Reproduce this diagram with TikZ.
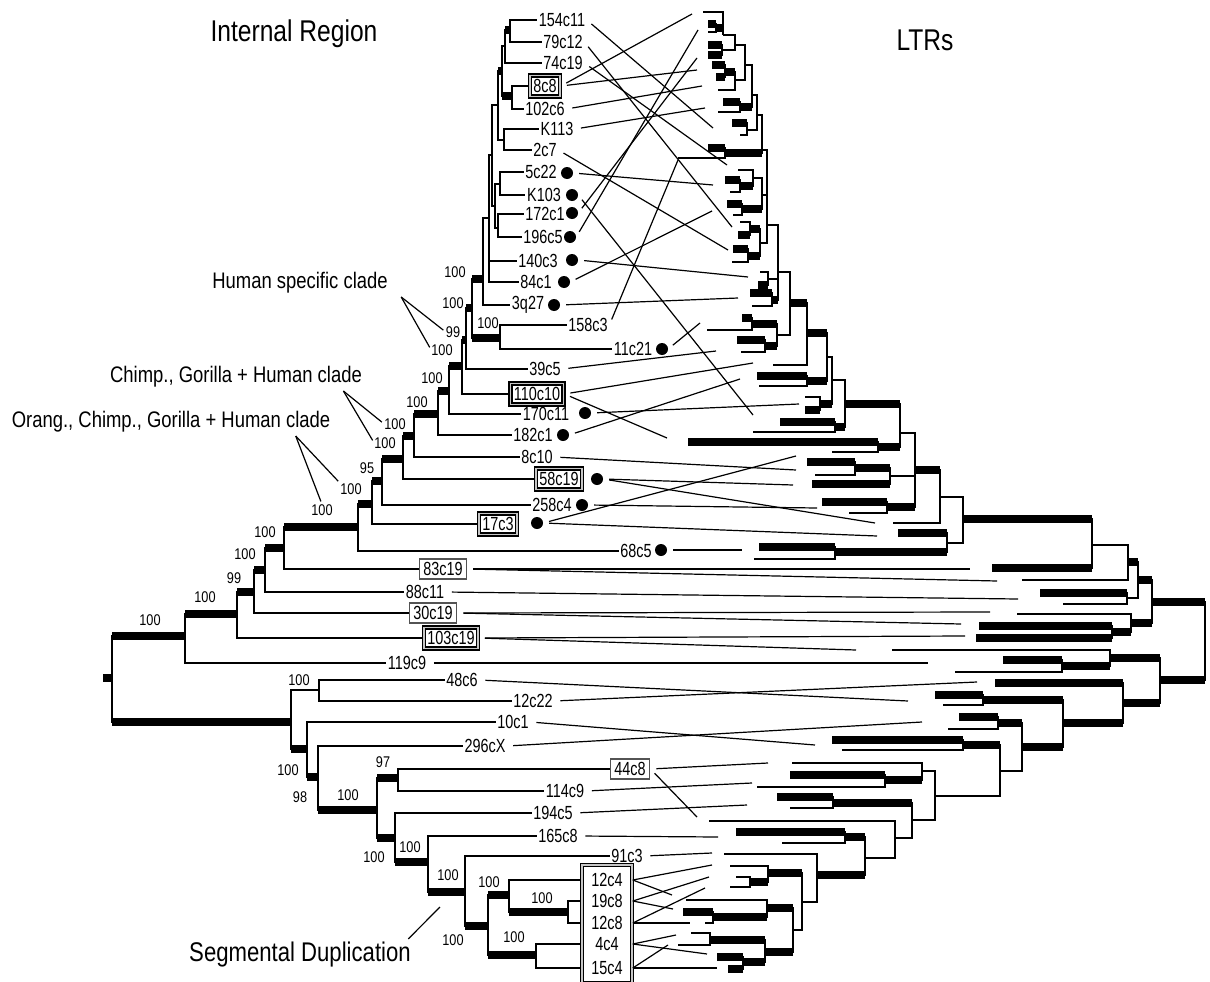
\documentclass[tikz,border=0pt]{standalone}
\usepackage{fontspec}
\setmainfont{Liberation Sans}[FakeStretch=0.82]
\newfontfamily\cnd{Liberation Sans}[FakeStretch=0.76]

\tikzset{
  br/.style={line width=2.2pt},
  thk/.style={line width=8.5pt},
  tl/.style={line width=1.2pt, shorten <=6pt},
  tlb/.style={line width=1.2pt},
  al/.style={line width=1.2pt, shorten >=3pt},
  lbl/.style={inner sep=1.5pt, font=\cnd\fontsize{19}{19}\selectfont},
  dbox/.style={lbl, draw, line width=1.6pt, double=gray!45, double distance=1.4pt, inner xsep=3.5pt, inner ysep=3.5pt},
  gbox/.style={lbl, draw=gray!65!black, line width=1.6pt, inner xsep=4pt, inner ysep=3.5pt},
  dot/.style={circle, fill, inner sep=0pt, minimum size=12pt},
  bs/.style={inner sep=0pt, font=\fontsize{15.5}{15.5}\selectfont},
  ann/.style={font=\fontsize{22.5}{22.5}\selectfont},
  sdl/.style={font=\fontsize{27}{27}\selectfont},
  ttl/.style={font=\fontsize{30}{30}\selectfont},
}

\begin{document}
\begin{tikzpicture}[x=1pt,y=-1pt]
\useasboundingbox (0,0) rectangle (1210,982);

\node[ttl] (irg) at (294,34) {Internal Region};
\node[ttl] (ltr) at (925,40) {LTRs};

% internal region labels
\foreach \n/\x/\y/\tx in {s154c11/562/20/154c11, s79c12/563/42/79c12, s74c19/563/63/74c19, s102c6/545/109/102c6,
  sK113/557/129/K113, s2c7/545/150/2c7, s5c22/541/172/5c22, sK103/544/195/K103, s172c1/545/214/172c1,
  s196c5/543/237/196c5, s140c3/538/261/140c3, s84c1/536/282/84c1, s3q27/528/305/3q27, s158c3/588/325/158c3,
  s11c21/633/349/11c21, s39c5/545/369/39c5, s170c11/546/414/170c11, s182c1/533/435/182c1, s8c10/537/457/8c10,
  s258c4/552/505/258c4, s68c5/636/551/68c5, s88c11/425/592/88c11, s119c9/407/663/119c9, s48c6/462/680/48c6,
  s12c22/533/701/12c22, s10c1/513/722/10c1, s296cX/485/746/296cX, s114c9/565/791/114c9, s194c5/553/813/194c5,
  s165c8/558/836/165c8, s91c3/627/856/91c3, s12c4/607/880/12c4, s19c8/607/901/19c8, s12c8/607/923/12c8,
  s4c4/607/944/4c4, s15c4/607/968/15c4}
  \node[lbl] (\n) at (\x,\y) {\tx};
\foreach \n/\x/\y/\tx in {s8c8/545/86/8c8, s110c10/537/394/110c10, s58c19/559/479/58c19, s17c3/498/524/17c3, s103c19/451/638/103c19}
  \node[dbox] (\n) at (\x,\y) {\tx};
\foreach \n/\x/\y/\tx in {s83c19/443/569/83c19, s30c19/433/613/30c19, s44c8/630/769/44c8}
  \node[gbox] (\n) at (\x,\y) {\tx};
\node[dbox, minimum width=50pt, minimum height=118pt] (bx) at (607,924) {};
\foreach \n/\x/\y in {d5c22/567/173, dK103/572/195, d172c1/572/213, d196c5/570/237, d140c3/572/260, d84c1/564/282,
  d3q27/554/305, d11c21/662/349, d170c11/585/413, d182c1/563/435, d58c19/597/479, d258c4/582/505, d17c3/537/523, d68c5/661/550}
  \node[dot] (\n) at (\x,\y) {};

% internal region tree
\foreach \n/\x/\y in {stub/103/678, root/112/678, u0/185/636, u1/237/614, u2/254/592, u3/265/570, u4/284/548, u5/358/527,
  u6/372/504, u7/382/481, u8/403/459, u9/414/436, u10/438/414, u11/449/391, u12/462/366, u13/466/340, u14/472/308,
  nl/483/279, nm/500/338, nk/489/218, nj/492/155, ni/495/206, ng/500/184, nh/498/228, nf/498/105, nd/502/71,
  ne/504/140, nb/505/46, nc/512/96, na/510/30,
  l0/291/722, l1/319/690, l2/307/749, l3/318/777, l4/377/810, l5/398/778, l6/395/838, l7/428/862, l8/465/892,
  l9/488/926, l10/509/895, l11/536/955, l12/568/912}
  \coordinate (\n) at (\x,\y);
\foreach \pa/\ch in {root/u0, root/l0, u0/u1, u1/u2, u2/u3, u3/u4, u4/u5, u5/u6, u6/u7, u7/u8, u8/u9, u9/u10,
  u10/u11, u11/u12, u12/u13, u13/u14, u14/nl, u14/nm, nl/nk, nk/nj, nj/nf, nj/ni, ni/ng, ni/nh, nf/nd, nf/ne,
  nd/nb, nd/nc, nb/na, l0/l1, l0/l2, l2/l3, l3/l4, l4/l5, l4/l6, l6/l7, l7/l8, l8/l9, l9/l10, l9/l11, l10/l12}
  \draw[br] (\pa) |- (\ch);
\foreach \pa/\ch in {root/u0, root/l0, u0/u1, u1/u2, u2/u3, u3/u4, u4/u5, u5/u6, u6/u7, u7/u8, u8/u9, u9/u10,
  u10/u11, u11/u12, u12/u13, u13/u14, u14/nl, u14/nm, nf/nd, nd/nc, nb/na, l0/l2, l2/l3, l3/l4, l4/l5, l4/l6, l6/l7,
  l7/l8, l8/l9, l9/l10, l9/l11, l10/l12}
  \draw[thk] (\pa |- \ch) -- (\ch);
\draw[thk] (stub) -- (root);
\foreach \pa/\ch in {na/s154c11, na/s79c12, nb/s74c19, nc/s8c8, nc/s102c6, ne/sK113, ne/s2c7, ng/s5c22, ng/sK103,
  nh/s172c1, nh/s196c5, nk/s140c3, nk/s84c1, nl/s3q27, nm/s158c3, nm/s11c21, u13/s39c5, u12/s110c10,
  u11/s170c11, u10/s182c1, u9/s8c10, u8/s58c19, u7/s258c4, u6/s17c3, u5/s68c5, u4/s83c19, u3/s88c11,
  u2/s30c19, u1/s103c19, u0/s119c9, l1/s48c6, l1/s12c22, l2/s10c1, l3/s296cX, l5/s44c8, l5/s114c9,
  l6/s194c5, l7/s165c8, l8/s91c3}
  \draw[br] (\pa) |- (\ch.west);
\foreach \pa/\ch in {l10/s12c4, l12/s19c8, l12/s12c8, l11/s4c4, l11/s15c4}
  \draw[br] (\pa) |- (bx.west |- \ch);

% bootstrap values
\foreach \n/\x/\y/\tx in {bs1/150/620/100, bs2/205/597/100, bs3/234/578/99, bs4/245/554/100, bs5/265/532/100,
  bs6/322/510/100, bs7/351/489/100, bs8/367/468/95, bs9/385/443/100, bs10/395/424/100, bs11/417/402/100,
  bs12/432/378/100, bs13/442/350/100, bs14/453/332/99, bs15/453/303/100, bs16/455/272/100, bs17/488/323/100,
  bs18/299/680/100, bs19/288/770/100, bs20/300/797/98, bs21/348/795/100, bs22/383/762/97, bs23/374/857/100,
  bs24/410/847/100, bs25/448/875/100, bs26/453/940/100, bs27/489/882/100, bs28/514/937/100, bs29/542/898/100}
  \node[bs] (\n) at (\x,\y) {\tx};

% clade notes
\node[ann] (hsc) at (300,283) {Human specific clade};
\node[ann] (cgh) at (236,377) {Chimp., Gorilla + Human clade};
\node[ann] (ocg) at (171,422) {Orang., Chimp., Gorilla + Human clade};
\node[sdl] (sdup) at (300,955) {Segmental Duplication};
\draw[al] ([xshift=10pt]hsc.south east) -- (bs14.west);
\draw[al] ([xshift=10pt]hsc.south east) -- (bs13.west);
\draw[al] ([xshift=-22pt]cgh.south east) -- (bs10.west);
\draw[al] ([xshift=-22pt]cgh.south east) -- (bs9.west);
\draw[al] ([xshift=-38pt]ocg.south east) -- (bs7.north west);
\draw[al] ([xshift=-38pt]ocg.south east) -- (bs6.north);
\coordinate (sdtip) at (442,905);
\draw[al] ([xshift=-6pt]sdup.north east) -- (sdtip);

% LTR tree
\foreach \n/\x/\y in {r1/703/12, r2/708/24, r3/708/32, r4/708/45, r5/708/55, r6/712/65, r7/716/77, r8/718/90,
  r9/723/102, r10/718/112, r11/732/123, r12/740/135, r13/708/148, r14/678/158, r15/738/170, r16/725/180,
  r17/730/192, r18/727/204, r19/733/215, r20/740/222, r21/738/235, r22/733/249, r23/732/262, r24/760/272,
  r25/758/285, r26/750/293, r27/752/306, r28/742/318, r29/707/330, r30/737/340, r31/741/352, r32/773/365,
  r33/757/376, r34/759/386, r35/805/397, r36/805/410, r37/780/422, r38/753/432, r39/688/442, r40/832/452,
  r41/807/462, r42/815/475, r43/812/484, r44/822/502, r45/849/513, r46/893/523, r47/759/547, r48/754/559,
  r49/898/533, r50/992/568, r51/1022/580, r52/1040/593, r53/1063/604, r54/1017/614, r55/979/626, r56/976/638,
  r57/892/650, r58/1003/660, r59/955/672, r60/995/683, r61/935/695, r62/943/705, r63/959/717, r64/948/729,
  r65/832/740, r66/842/750, r67/792/763, r68/790/775, r69/757/787, r70/777/797, r71/790/808, r72/709/821,
  r73/736/832, r74/782/843, r75/724/854, r76/730/866, r77/736/877, r78/730/887, r79/686/900, r80/683/912,
  r81/705/923, r82/691/933, r83/678/945, r84/717/957, r85/728/969}
  \coordinate (\n) at (\x,\y);
\foreach \n/\x/\y in {a1/716/28, a2/723/35, a3/722/50, a4/735/45, a5/725/72, a6/735/80, a7/745/65, a8/740/107,
  a9/752/95, a10/747/130, a11/757/115, a12/725/153, B1/762/150, a14/740/186, a16/753/178, a15/742/209,
  a17/762/195, a18/750/229, a19/748/256, a20/760/243, B2/767/225, a23/768/279, a24/772/300, Bx/778/272,
  a25/752/324, a26/765/346, T11/777/335, B3/790/303, B4/807/333, a27/807/381, B5/827/357, a28/820/404,
  B6/832/380, a29/835/427, B7/845/404, a30/878/447, B8/900/433, a33/855/468, a31/890/476, a32/887/507,
  B9/915/470, B10/940/497, a34/835/552, a35/947/543, B11/963/519, B12/1092/545, B13/1128/562, a36/1127/598,
  B14/1138/580, a37/1112/632, a38/1131/623, B15/1152/602, R/1205/641, a39/1062/666, a40/1110/658,
  Q1/1160/680, a41/983/700, Q2/1123/703, Q3/1063/723, a42/998/723, Q4/1022/747, a43/963/745, Q5/1000/771,
  a44/885/780, a45/922/771, Q6/935/796, a46/833/803, a47/912/820, Q8/895/838, a48/845/837, Q9/865/858,
  Q10/817/875, a49/750/882, a50/768/873, Q11/802/902, a51/713/917, a52/767/908, a55/710/940, a53/743/962,
  a54/765/952, Q12/793/930}
  \coordinate (\n) at (\x,\y);
\foreach \pa/\ch in {a1/r2, a1/r3, a2/r1, a2/a1, a3/r4, a3/r5, a4/a2, a4/a3, a5/r6, a5/r7, a6/a5, a6/r8, a7/a4,
  a7/a6, a8/r9, a8/r10, a9/a7, a9/a8, a10/r11, a10/r12, a11/a9, a11/a10, a12/r13, a12/r14, B1/a11, B1/a12,
  a14/r16, a14/r17, a16/r15, a16/a14, a15/r18, a15/r19, a17/a16, a17/a15, a18/r20, a18/r21, a19/r22, a19/r23,
  a20/a18, a20/a19, B2/B1, B2/a17, B2/a20, a23/r24, a23/r25, a24/r26, a24/r27, Bx/B2, Bx/a23, Bx/a24, a25/r28,
  a25/r29, a26/r30, a26/r31, T11/a25, T11/a26, B3/Bx, B3/T11, B4/B3, B4/r32, a27/r33, a27/r34, B5/B4, B5/a27,
  a28/r35, a28/r36, B6/B5, B6/a28, a29/r37, a29/r38, B7/B6, B7/a29, a30/r39, a30/r40, B8/B7, B8/a30, a33/r41,
  a33/r42, a31/a33, a31/r43, a32/r44, a32/r45, B9/B8, B9/a31, B9/a32, B10/B9, B10/r46, a34/r47, a34/r48,
  a35/r49, a35/a34, B11/B10, B11/a35, B12/B11, B12/r50, B13/B12, B13/r51, a36/r52, a36/r53, B14/B13, B14/a36,
  a37/r55, a37/r56, a38/r54, a38/a37, B15/B14, B15/a38, R/B15, R/Q1, a39/r58, a39/r59, a40/r57, a40/a39,
  Q1/a40, Q1/Q2, Q2/r60, Q2/Q3, a41/r61, a41/r62, Q3/a41, Q3/Q4, a42/r63, a42/r64, Q4/a42, Q4/Q5, a43/r65,
  a43/r66, Q5/a43, Q5/Q6, a44/r68, a44/r69, a45/r67, a45/a44, Q6/a45, Q6/a47, a46/r70, a46/r71, a47/a46,
  a47/Q8, Q8/r72, Q8/Q9, a48/r73, a48/r74, Q9/a48, Q9/Q10, Q10/r75, Q10/Q11, a49/r77, a49/r78, a50/r76,
  a50/a49, Q11/a50, Q11/Q12, a51/r80, a51/r81, a52/r79, a52/a51, a55/r82, a55/r83, a53/r84, a53/r85,
  a54/a55, a54/a53, Q12/a52, Q12/a54}
  \draw[br] (\pa) |- (\ch);
\foreach \pa/\ch in {a1/r2, a2/a1, a3/r4, a3/r5, a5/r6, a5/r7, a6/a5, a8/r9, a9/a8, a10/r11, a12/r13, B1/a12, a14/r16,
  a16/a14, a15/r18, a17/a15, a18/r21, a19/r22, a20/a18, a20/a19, a23/r25, a24/r26, Bx/a24, a25/r28, T11/a25,
  a26/r30, T11/a26, B4/B3, B5/B4, a27/r33, B5/a27, a28/r36, B6/a28, a29/r37, B7/a29, B8/B7, a30/r39, B8/a30,
  a33/r41, a31/a33, a31/r43, a32/r44, B9/a32, B10/B9, a34/r47, a35/a34, a35/r49, B12/B11, B12/r50, B14/B13,
  B15/B14, a36/r52, a37/r55, a37/r56, a38/a37, B15/a38, R/B15, R/Q1, a39/r58, a40/a39, Q1/a40, Q2/r60, Q1/Q2,
  a41/r61, Q3/a41, Q2/Q3, a42/r63, Q4/a42, Q3/Q4, a43/r65, Q5/a43, a44/r68, a45/a44, a46/r70, a47/a46, Q9/a48,
  a48/r73, Q9/Q10, a50/a49, Q11/a50, a51/r80, a52/a51, Q12/a52, a54/a55, a53/r84, a53/r85, a54/a53, Q12/a54}
  \draw[thk] (\pa |- \ch) -- (\ch);

% links between the two trees
\foreach \sn/\en/\x/\y in {s154c11/e1/713/128, s79c12/e2/732/227, s74c19/e3/727/165, s8c8/e4/692/14,
  s8c8/e5/697/70, s102c6/e6/702/86, sK113/e7/705/108, s2c7/e8/728/250, d5c22/e9/713/185, dK103/e10/753/415,
  d172c1/e11/697/58, d196c5/e12/698/30, d140c3/e13/748/277, d84c1/e14/712/211, d3q27/e15/738/298,
  s158c3/e16/678/160, d11c21/e17/700/323, s39c5/e18/716/351, s110c10/e19/753/363, s110c10/e20/667/438,
  d170c11/e21/799/404, d182c1/e22/740/379, s8c10/e23/796/470, d58c19/e24/793/485, d58c19/e25/875/523,
  d258c4/e26/817/508, d17c3/e27/796/456, d17c3/e28/877/536, d68c5/e29/742/550, s83c19/e30/970/569,
  s83c19/e31/997/581, s88c11/e32/1018/599, s30c19/e33/990/612, s30c19/e34/961/624, s103c19/e35/965/636,
  s103c19/e36/856/650, s119c9/e37/928/663, s48c6/e38/908/701, s12c22/e39/977/682, s10c1/e40/815/745,
  s296cX/e41/922/722, s44c8/e42/768/763, s44c8/e43/697/817, s114c9/e44/752/783, s194c5/e45/747/805,
  s165c8/e46/718/837, s91c3/e47/712/853}
  {\coordinate (\en) at (\x,\y);
   \draw[tl] (\sn.east) -- (\en);}
\foreach \sn/\en/\x/\y in {s12c4/f1/712/865, s12c4/f2/672/895, s19c8/f3/709/877, s19c8/f4/673/909,
  s12c8/f5/705/888, s12c8/f6/690/923, s4c4/f7/676/935, s4c4/f8/707/954, s15c4/f9/668/945, s15c4/f10/717/968}
  {\coordinate (\en) at (\x,\y);
   \draw[tlb] (bx.east |- \sn) -- (\en);}

\end{tikzpicture}
\end{document}
